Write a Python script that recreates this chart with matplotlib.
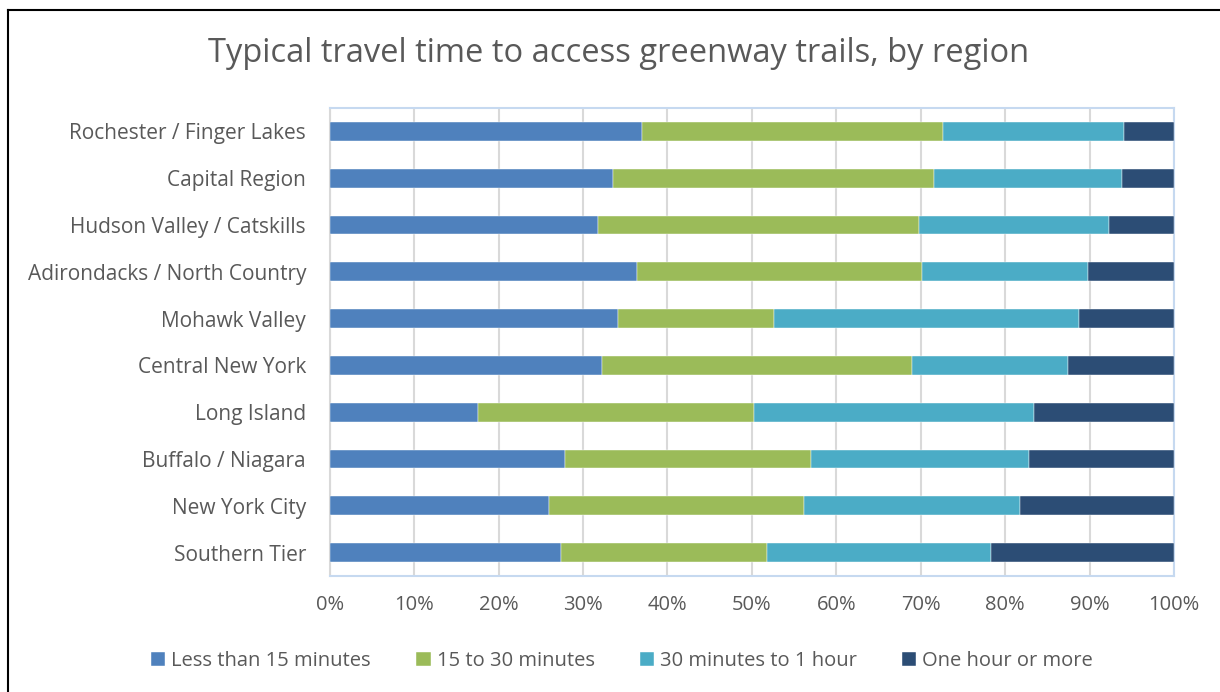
import matplotlib.pyplot as plt
from matplotlib.lines import Line2D
from matplotlib.ticker import PercentFormatter

# data (top to bottom as shown)
regions = ["Rochester / Finger Lakes", "Capital Region", "Hudson Valley / Catskills",
           "Adirondacks / North Country", "Mohawk Valley", "Central New York",
           "Long Island", "Buffalo / Niagara", "New York City", "Southern Tier"]
less_15 = [37.0, 33.6, 31.8, 36.4, 34.2, 32.2, 17.6, 27.9, 26.0, 27.4]
min_15_30 = [35.6, 38.0, 38.0, 33.7, 18.4, 36.8, 32.6, 29.1, 30.2, 24.4]
min_30_60 = [21.5, 22.2, 22.5, 19.7, 36.1, 18.4, 33.2, 25.8, 25.6, 26.5]
hour_plus = [5.9, 6.2, 7.7, 10.2, 11.3, 12.6, 16.6, 17.2, 18.2, 21.7]

series = ["Less than 15 minutes", "15 to 30 minutes", "30 minutes to 1 hour", "One hour or more"]
colors = ["#4f81bd", "#9bbb59", "#4bacc6", "#2c4d75"]
TEXT = "#595959"

plt.rcParams['font.family'] = ['Open Sans', 'DejaVu Sans']

fig = plt.figure(figsize=(12.2, 6.92), dpi=100)
ax = fig.add_axes([329.7 / 1220, 1 - 576 / 692, (1174 - 329.7) / 1220, (576 - 108) / 692])

ypos = list(range(len(regions)))
left = [0.0] * len(regions)
for name, vals, c in zip(series, [less_15, min_15_30, min_30_60, hour_plus], colors):
    ax.barh(ypos, vals, left=left, height=0.4, color=c, label=name,
            edgecolor="white", linewidth=0.3, zorder=3)
    left = [a + b for a, b in zip(left, vals)]

ax.set_xlim(0, 100)
ax.set_ylim(len(regions) - 0.5, -0.5)
ax.set_yticks(ypos)
ax.set_yticklabels(regions, fontsize=15, color=TEXT)
ax.set_xticks(range(0, 101, 10))
ax.xaxis.set_major_formatter(PercentFormatter(decimals=0))
ax.tick_params(axis='x', labelsize=14.5, labelcolor=TEXT, length=0, pad=14)
ax.tick_params(axis='y', length=0, pad=17)
ax.grid(axis='x', color="#d9d9d9", linewidth=1.5, zorder=0)

for side in ["top", "right", "bottom"]:
    ax.spines[side].set_color("#c6d9f0")
    ax.spines[side].set_linewidth(1.5)
ax.spines["left"].set_color("#d9d9d9")
ax.spines["left"].set_linewidth(1.5)

fig.text(0.507, 1 - 53 / 692, "Typical travel time to access greenway trails, by region",
         ha='center', va='center', fontsize=23.5, color=TEXT)

fig.legend(loc='center', bbox_to_anchor=(0.51, 1 - 661 / 692), ncol=4, frameon=False,
           fontsize=14.5, labelcolor=TEXT, handlelength=0.7, handleheight=0.7,
           handletextpad=0.3, columnspacing=2.25)

# outer chart border (left and top edges)
fig.add_artist(Line2D([8 / 1220, 8 / 1220], [0, 1 - 10 / 692], color='black', linewidth=1.5))
fig.add_artist(Line2D([8 / 1220, 1], [1 - 10 / 692, 1 - 10 / 692], color='black', linewidth=1.5))

fig.savefig("out.png", dpi=100)
